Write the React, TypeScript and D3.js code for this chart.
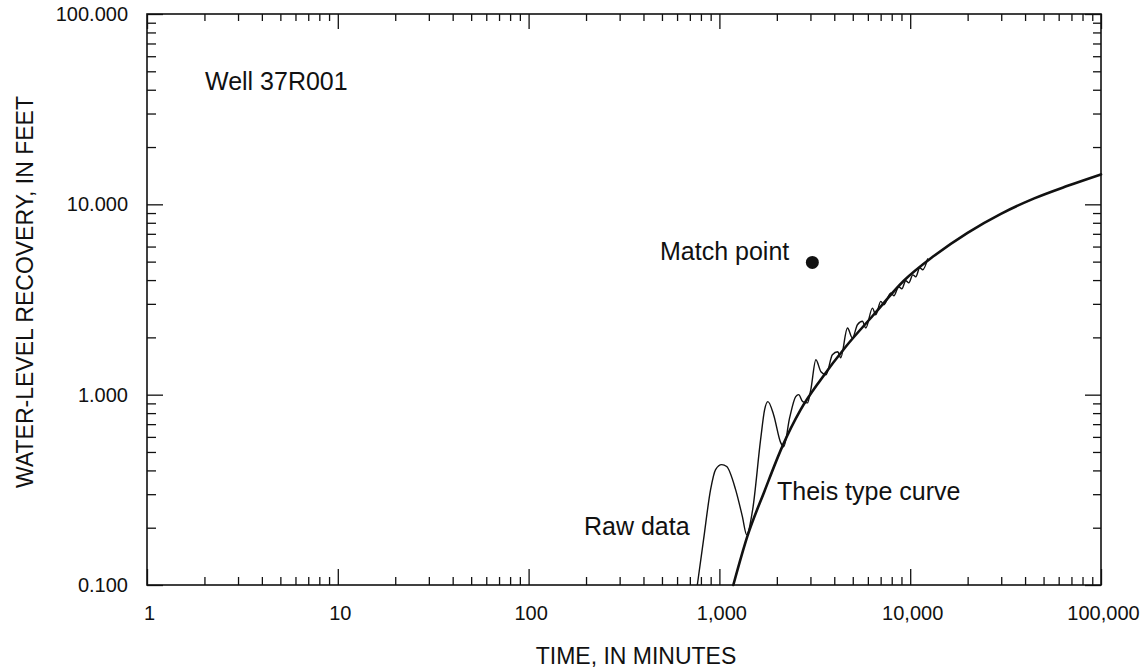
import * as d3 from 'd3';
import { useEffect, useRef } from 'react';

// Raw water-level recovery record (time in minutes, recovery in feet)
const rawTime = [
  766, 826, 899, 955, 1028, 1092, 1216, 1318, 1390, 1494, 1644, 1726, 1795, 1923, 2095, 2173,
  2335, 2512, 2604, 2733, 2893, 3013, 3204, 3405, 3620, 3910, 4170, 4322, 4690, 4980, 5290,
  5620, 5850, 6340, 6600, 7010, 7280, 7920, 8210, 8710, 9040, 9480, 9840, 10320, 10700, 11220,
  11640, 12360,
];
const rawRecovery = [
  0.1, 0.173, 0.317, 0.404, 0.429, 0.419, 0.317, 0.23, 0.184, 0.249, 0.58, 0.834, 0.919, 0.785,
  0.56, 0.533, 0.757, 0.976, 1.0, 0.919, 0.905, 1.062, 1.527, 1.32, 1.273, 1.622, 1.682, 1.564,
  2.24, 1.984, 2.33, 2.43, 2.24, 2.85, 2.63, 3.09, 2.97, 3.42, 3.31, 3.69, 3.6, 3.97, 3.87, 4.26,
  4.16, 4.64, 4.53, 5.2,
];

// Theis type curve as drawn on the plot
const theisTime = [
  1183, 1401, 1727, 2138, 2667, 3396, 4594, 6365, 9256, 13350, 19980, 29880, 44680, 66880, 100000,
];
const theisRecovery = [
  0.1, 0.18, 0.313, 0.535, 0.834, 1.199, 1.786, 2.598, 3.967, 5.366, 7.087, 8.916, 10.75, 12.51,
  14.37,
];

const matchTime = [3070];
const matchRecovery = [4.95];

const xTickValues = [1, 10, 100, 1000, 10000, 100000];
const yTickValues = [0.1, 1, 10, 100];

const FONT = "'Liberation Sans', Arial, Helvetica, sans-serif";

const App = () => {
  const ref = useRef(null);

  useEffect(() => {
    const width = 1144;
    const height = 669;
    const margin = { top: 14, right: 43, bottom: 84, left: 147 };

    const svg = d3.select(ref.current);
    svg.selectAll('*').remove();

    const x = d3.scaleLog().domain([1, 100000]).range([margin.left, width - margin.right]);
    const y = d3.scaleLog().domain([0.1, 100]).range([height - margin.bottom, margin.top]);

    const x0 = margin.left;
    const x1 = width - margin.right;
    const y0 = height - margin.bottom;
    const y1 = margin.top;

    const xMinor = x.ticks().filter((t) => !xTickValues.includes(t));
    const yMinor = y.ticks().filter((t) => !yTickValues.some((v) => Math.abs(v - t) < 1e-9));

    const styleAxis = (g) => {
      g.select('.domain').remove();
      g.selectAll('line').attr('stroke', '#111').attr('stroke-width', 1.3);
      g.selectAll('text')
        .attr('fill', '#111')
        .style('font-family', FONT)
        .style('font-size', '20px');
    };

    // bottom axis, major + minor, ticks pointing inward
    svg.append('g')
      .attr('transform', `translate(0,${y0})`)
      .call(d3.axisBottom(x).tickValues(xTickValues).tickSize(-16).tickPadding(21).tickFormat(d3.format(',')))
      .call(styleAxis)
      .selectAll('text').attr('dx', 2);
    svg.append('g')
      .attr('transform', `translate(0,${y0})`)
      .call(d3.axisBottom(x).tickValues(xMinor).tickSize(-8).tickFormat(''))
      .call(styleAxis);

    // top axis (ticks only)
    svg.append('g')
      .attr('transform', `translate(0,${y1})`)
      .call(d3.axisTop(x).tickValues(xTickValues).tickSize(-15).tickFormat(''))
      .call(styleAxis);
    svg.append('g')
      .attr('transform', `translate(0,${y1})`)
      .call(d3.axisTop(x).tickValues(xMinor).tickSize(-7).tickFormat(''))
      .call(styleAxis);

    // left axis
    svg.append('g')
      .attr('transform', `translate(${x0},0)`)
      .call(d3.axisLeft(y).tickValues(yTickValues).tickSize(-16).tickPadding(19).tickFormat(d3.format('.3f')))
      .call(styleAxis);
    svg.append('g')
      .attr('transform', `translate(${x0},0)`)
      .call(d3.axisLeft(y).tickValues(yMinor).tickSize(-9).tickFormat(''))
      .call(styleAxis);

    // right axis
    svg.append('g')
      .attr('transform', `translate(${x1},0)`)
      .call(d3.axisRight(y).tickValues(yTickValues).tickSize(-16).tickFormat(''))
      .call(styleAxis);
    svg.append('g')
      .attr('transform', `translate(${x1},0)`)
      .call(d3.axisRight(y).tickValues(yMinor).tickSize(-8).tickFormat(''))
      .call(styleAxis);

    // frame
    svg.append('rect')
      .attr('x', x0)
      .attr('y', y1)
      .attr('width', x1 - x0)
      .attr('height', y0 - y1)
      .attr('fill', 'none')
      .attr('stroke', '#111')
      .attr('stroke-width', 1.6);

    // Theis type curve
    const theisData = theisTime.map((t, i) => ({ t, s: theisRecovery[i] }));
    const rawData = rawTime.map((t, i) => ({ t, s: rawRecovery[i] }));

    const line = d3.line()
      .x((d) => x(d.t))
      .y((d) => y(d.s))
      .curve(d3.curveMonotoneX);

    svg.append('path')
      .datum(rawData)
      .attr('d', line)
      .attr('fill', 'none')
      .attr('stroke', '#111')
      .attr('stroke-width', 1.4)
      .attr('stroke-linejoin', 'round');

    svg.append('path')
      .datum(theisData)
      .attr('d', line)
      .attr('fill', 'none')
      .attr('stroke', '#111')
      .attr('stroke-width', 2.6)
      .attr('stroke-linecap', 'round');

    // match point
    svg.selectAll('.match')
      .data(matchTime.map((t, i) => ({ t, s: matchRecovery[i] })))
      .enter()
      .append('circle')
      .attr('cx', (d) => x(d.t))
      .attr('cy', (d) => y(d.s))
      .attr('r', 6.5)
      .attr('fill', '#111');

    const label = (tx, ty, txt, size, anchor = 'start') =>
      svg.append('text')
        .attr('x', tx)
        .attr('y', ty)
        .attr('text-anchor', anchor)
        .attr('fill', '#111')
        .style('font-family', FONT)
        .style('font-size', `${size}px`)
        .text(txt);

    label(205, 90, 'Well 37R001', 25);
    label(660, 260, 'Match point', 25);
    label(584, 535, 'Raw data', 25);
    label(777, 500, 'Theis type curve', 25);

    // axis titles
    label(636, 664, 'TIME, IN MINUTES', 23, 'middle');
    svg.append('text')
      .attr('transform', 'translate(33,292) rotate(-90)')
      .attr('text-anchor', 'middle')
      .attr('fill', '#111')
      .style('font-family', FONT)
      .style('font-size', '23px')
      .text('WATER-LEVEL RECOVERY, IN FEET');
  }, []);

  return (
    <svg
      ref={ref}
      width={1144}
      height={669}
      style={{ position: 'absolute', left: 0, top: 0, background: '#fff' }}
    />
  );
};

export default App;
